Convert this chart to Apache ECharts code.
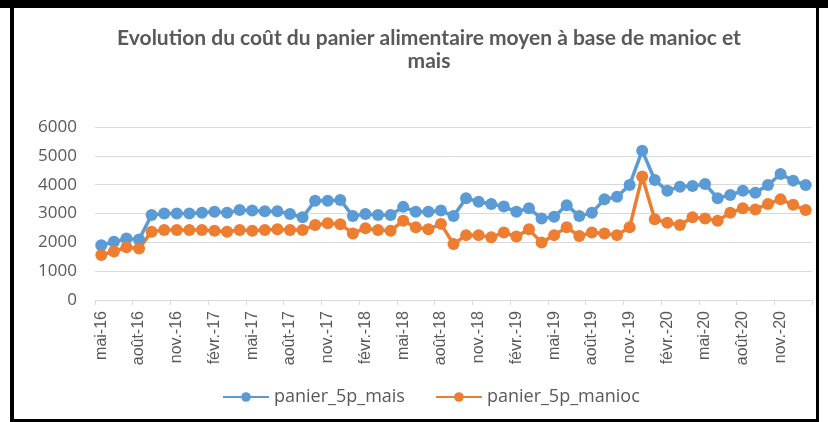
<!DOCTYPE html>
<html>
<head>
<meta charset="utf-8">
<script src="https://cdn.jsdelivr.net/npm/echarts@6/dist/echarts.min.js"></script>
<style>
html,body{margin:0;padding:0;background:#fff;}
#chart{width:828px;height:422px;}
</style>
</head>
<body>
<div id="chart"></div>
<script>
const categories = [
  "mai-16","juin-16","juil.-16","août-16","sept.-16","oct.-16","nov.-16","déc.-16",
  "janv.-17","févr.-17","mars-17","avr.-17","mai-17","juin-17","juil.-17","août-17","sept.-17","oct.-17","nov.-17","déc.-17",
  "janv.-18","févr.-18","mars-18","avr.-18","mai-18","juin-18","juil.-18","août-18","sept.-18","oct.-18","nov.-18","déc.-18",
  "janv.-19","févr.-19","mars-19","avr.-19","mai-19","juin-19","juil.-19","août-19","sept.-19","oct.-19","nov.-19","déc.-19",
  "janv.-20","févr.-20","mars-20","avr.-20","mai-20","juin-20","juil.-20","août-20","sept.-20","oct.-20","nov.-20","déc.-20",
  "janv.-21"
];
const panierMais = [
  1900,2020,2130,2100,2950,3000,3000,3000,3030,3060,3030,3120,3100,3080,3080,2980,2870,3440,3440,3470,
  2910,2980,2950,2950,3230,3060,3060,3100,2910,3530,3410,3330,3240,3060,3180,2830,2890,3290,2910,3030,
  3490,3580,3990,5180,4160,3790,3930,3950,4020,3530,3640,3790,3720,3990,4370,4140,3990
];
const panierManioc = [
  1560,1680,1830,1790,2370,2430,2430,2430,2430,2400,2370,2430,2400,2430,2450,2430,2430,2600,2660,2630,
  2310,2490,2430,2400,2750,2520,2450,2640,1940,2250,2250,2180,2340,2200,2450,1990,2250,2520,2220,2340,
  2310,2250,2520,4280,2800,2680,2600,2870,2830,2750,3030,3180,3140,3330,3490,3300,3120
];
const yTicks = [0,1000,2000,3000,4000,5000,6000];
const seriesNames = ["panier_5p_mais","panier_5p_manioc"];
const titleText = "Evolution du coût du panier alimentaire moyen à base de manioc et\nmais";

const chart = echarts.init(document.getElementById('chart'), null, {renderer:'canvas'});
const txt = '#595959';
chart.setOption({
  animation:false,
  backgroundColor:'#ffffff',
  color:['#5B9BD5','#ED7D31'],
  graphic:[
    {type:'rect', shape:{x:0,y:0,width:828,height:8}, style:{fill:'#000'}, silent:true},
    {type:'rect', shape:{x:10,y:0,width:4,height:422}, style:{fill:'#000'}, silent:true},
    {type:'rect', shape:{x:816,y:0,width:3,height:422}, style:{fill:'#000'}, silent:true},
    {type:'rect', shape:{x:10,y:419,width:809,height:3}, style:{fill:'#000'}, silent:true},
    {type:'text', x:429, y:27, style:{text:titleText, fill:txt, font:'bold 21px Lato, "Open Sans", sans-serif', textAlign:'center', lineHeight:23}}
  ],
  grid:{left:95, right:16, top:127, bottom:122},
  legend:{
    data:seriesNames, left:217, top:383, itemWidth:46, itemHeight:12, itemGap:30,
    textStyle:{color:txt, fontSize:18, fontFamily:'"Open Sans", sans-serif'}
  },
  xAxis:{
    type:'category', data:categories, boundaryGap:true,
    axisLine:{lineStyle:{color:'#d9d9d9', width:1}},
    axisTick:{show:true, interval:2, length:5, lineStyle:{color:'#d9d9d9'}},
    axisLabel:{interval:2, rotate:90, margin:11, color:txt, fontSize:16, fontFamily:'"Liberation Sans", sans-serif'}
  },
  yAxis:{
    type:'value', min:0, max:6000, interval:1000,
    axisLine:{show:false}, axisTick:{show:false},
    splitLine:{lineStyle:{color:'#d9d9d9', width:1}},
    axisLabel:{color:txt, fontSize:17, margin:18, fontFamily:'"Open Sans", sans-serif',
      formatter:function(v){return yTicks.indexOf(v)>=0 ? String(v) : '';}}
  },
  series:[
    {name:seriesNames[0], type:'line', data:panierMais, symbol:'circle', symbolSize:12, showAllSymbol:true, lineStyle:{width:3.5}, itemStyle:{color:'#5B9BD5'}},
    {name:seriesNames[1], type:'line', data:panierManioc, symbol:'circle', symbolSize:12, showAllSymbol:true, lineStyle:{width:3.5}, itemStyle:{color:'#ED7D31'}}
  ]
});
</script>
</body>
</html>
